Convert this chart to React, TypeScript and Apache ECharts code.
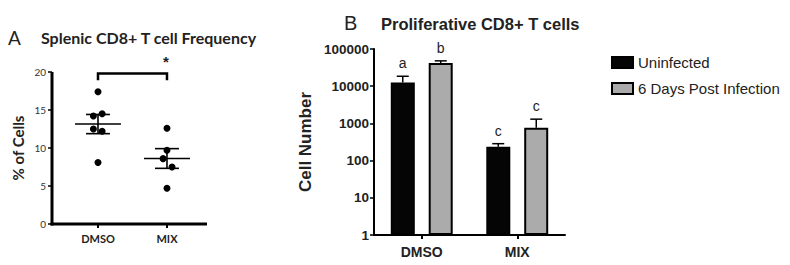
import React, { useEffect, useRef } from "react";
import * as echarts from "echarts";

// ---------- Panel A data ----------
const groupsA = ["DMSO", "MIX"];
const groupPosA = [2, 5];
const dmsoPct = [17.4, 14.2, 14.5, 12.5, 12.2, 8.1];
const mixPct = [12.6, 9.7, 8.6, 7.5, 4.7];
const dmsoJitter = [0, -0.2, 0.18, -0.2, 0.18, 0];
const mixJitter = [0, 0, -0.17, 0.22, 0];
const yTicksA = [0, 5, 10, 15, 20];
const significance = "*";

// ---------- Panel B data ----------
const groupsB = ["DMSO", "MIX"];
const uninfected = [12500, 235];
const uninfectedUpper = [18500, 285];
const infected = [42000, 760];
const infectedUpper = [48000, 1300];
const lettersUninfected = ["a", "c"];
const lettersInfected = ["b", "c"];
const seriesNames = ["Uninfected", "6 Days Post Infection"];

function meanSem(arr: number[]) {
  const n = arr.length;
  const m = arr.reduce((a, b) => a + b, 0) / n;
  const v = arr.reduce((a, b) => a + (b - m) * (b - m), 0) / (n - 1);
  return [m, Math.sqrt(v) / Math.sqrt(n)];
}

const ARIAL = "Liberation Sans";
const CAL = "Lato";
const INK = "#000000";
const X_MAX_A = 6.74;

export default function App() {
  const ref = useRef<HTMLDivElement>(null);
  useEffect(() => {
    if (!ref.current) return;
    const chart = echarts.init(ref.current, null, { renderer: "svg" });
    const [mD, sD] = meanSem(dmsoPct);
    const [mM, sM] = meanSem(mixPct);
    const statsA = [
      [groupPosA[0], mD, sD],
      [groupPosA[1], mM, sM],
    ];
    const scatterA = [
      ...dmsoPct.map((v, i) => [groupPosA[0] + dmsoJitter[i], v]),
      ...mixPct.map((v, i) => [groupPosA[1] + mixJitter[i], v]),
    ];
    const errB = [
      ...uninfected.map((v, i) => [i, v, uninfectedUpper[i], -1, lettersUninfected[i]]),
      ...infected.map((v, i) => [i, v, infectedUpper[i], 1, lettersInfected[i]]),
    ];
    const barOffset = 19;
    const yMinA = yTicksA[0];
    const yMaxA = yTicksA[yTicksA.length - 1];

    const option: any = {
      animation: false,
      backgroundColor: "#fff",
      color: [INK, "#ababab"],
      title: [
        { text: "A", left: 3, top: 23, textStyle: { fontFamily: CAL, fontSize: 19, fontWeight: "normal", color: "#222" } },
        { text: "Splenic CD8+ T cell Frequency", left: 36, top: 24, textStyle: { fontFamily: CAL, fontSize: 16, fontWeight: "bold", color: "#222" } },
        { text: "B", left: 339, top: 8, textStyle: { fontFamily: ARIAL, fontSize: 20, fontWeight: "normal", color: "#222" } },
        { text: "Proliferative CD8+ T cells", left: 376, top: 10, textStyle: { fontFamily: ARIAL, fontSize: 16.5, fontWeight: "bold", color: "#222" } },
      ],
      legend: {
        orient: "vertical",
        left: 606,
        top: 50,
        itemWidth: 21,
        itemHeight: 11,
        itemGap: 11,
        icon: "rect",
        data: seriesNames,
        textStyle: { fontFamily: ARIAL, fontSize: 15, color: "#222" },
      },
      grid: [
        { left: 52, top: 72, width: 155, height: 152 },
        { left: 374, top: 49, width: 191, height: 186 },
      ],
      xAxis: [
        {
          gridIndex: 0,
          type: "value",
          min: 0,
          max: X_MAX_A,
          interval: 1,
          splitLine: { show: false },
          axisLine: { show: false },
          axisTick: { show: false },
          axisLabel: {
            formatter: (v: number) => {
              const k = groupPosA.indexOf(Math.round(v * 100) / 100);
              return k >= 0 ? groupsA[k] : "";
            },
            margin: 9,
            fontFamily: CAL,
            fontWeight: "bold",
            fontSize: 11,
            color: "#222",
          },
        },
        {
          gridIndex: 1,
          type: "category",
          data: groupsB,
          axisLine: { lineStyle: { color: INK, width: 2 } },
          axisTick: { show: true, alignWithLabel: true, length: 4, lineStyle: { width: 2, color: INK } },
          axisLabel: { fontFamily: ARIAL, fontWeight: "bold", fontSize: 14, color: "#222", margin: 10 },
        },
      ],
      yAxis: [
        {
          gridIndex: 0,
          type: "value",
          min: yMinA,
          max: yMaxA,
          interval: 5,
          name: "% of Cells",
          nameLocation: "middle",
          nameGap: 27,
          nameTextStyle: { fontFamily: CAL, fontWeight: "bold", fontSize: 15, color: "#222" },
          splitLine: { show: false },
          axisLine: { show: false },
          axisTick: { show: true, length: 4, lineStyle: { width: 1.5, color: INK } },
          axisLabel: { fontFamily: CAL, fontSize: 10, color: "#333", margin: 6 },
        },
        {
          gridIndex: 1,
          type: "log",
          logBase: 10,
          min: 1,
          max: 100000,
          name: "Cell Number",
          nameLocation: "middle",
          nameGap: 60,
          nameTextStyle: { fontFamily: ARIAL, fontWeight: "bold", fontSize: 17, color: "#222" },
          splitLine: { show: false },
          axisLine: { show: true, lineStyle: { color: INK, width: 2 } },
          axisTick: { show: true, length: 4, lineStyle: { width: 1.5, color: INK } },
          axisLabel: {
            formatter: (v: number) => String(Math.round(v)),
            fontFamily: ARIAL,
            fontWeight: "bold",
            fontSize: 13.5,
            color: "#222",
            margin: 5,
          },
        },
      ],
      series: [
        {
          // panel A axis frame (L-shape), placed through the axes' own scales
          type: "custom",
          xAxisIndex: 0,
          yAxisIndex: 0,
          clip: false,
          silent: true,
          data: [[0, yMinA, X_MAX_A, yMaxA]],
          renderItem: (params: any, api: any) => {
            const o = api.coord([api.value(0), api.value(1)]);
            const xe = api.coord([api.value(2), api.value(1)]);
            const ye = api.coord([api.value(0), api.value(3)]);
            return {
              type: "group",
              children: [
                { type: "rect", shape: { x: o[0] - 1.5, y: ye[1], width: 3, height: o[1] - ye[1] + 1.5 }, style: { fill: INK } },
                { type: "rect", shape: { x: o[0] - 1.5, y: o[1] - 1.5, width: xe[0] - o[0] + 1.5, height: 3 }, style: { fill: INK } },
              ],
            };
          },
          z: 2,
        },
        {
          type: "scatter",
          xAxisIndex: 0,
          yAxisIndex: 0,
          data: scatterA,
          symbol: "circle",
          symbolSize: 7,
          itemStyle: { color: INK, opacity: 1 },
          z: 3,
        },
        {
          type: "custom",
          xAxisIndex: 0,
          yAxisIndex: 0,
          clip: false,
          data: statsA,
          renderItem: (params: any, api: any) => {
            const x = api.value(0);
            const m = api.value(1);
            const s = api.value(2);
            const c = api.coord([x, m]);
            const t = api.coord([x, m + s]);
            const b = api.coord([x, m - s]);
            const base = api.coord([x, 0]);
            const unit = api.size([1, 0])[0];
            const hw = unit * 1.0;
            const cw = unit * 0.52;
            const st = { stroke: INK, lineWidth: 1.6 };
            return {
              type: "group",
              children: [
                { type: "line", shape: { x1: c[0] - hw, y1: c[1], x2: c[0] + hw, y2: c[1] }, style: st },
                { type: "line", shape: { x1: c[0] - cw, y1: t[1], x2: c[0] + cw, y2: t[1] }, style: st },
                { type: "line", shape: { x1: c[0] - cw, y1: b[1], x2: c[0] + cw, y2: b[1] }, style: st },
                { type: "line", shape: { x1: c[0], y1: t[1], x2: c[0], y2: b[1] }, style: st },
                { type: "line", shape: { x1: base[0], y1: base[1], x2: base[0], y2: base[1] + 4 }, style: { stroke: INK, lineWidth: 2 } },
              ],
            };
          },
          z: 4,
        },
        {
          type: "custom",
          xAxisIndex: 0,
          yAxisIndex: 0,
          clip: false,
          data: [[groupPosA[0], groupPosA[1], 19.8, 18.9]],
          renderItem: (params: any, api: any) => {
            const a = api.coord([api.value(0), api.value(2)]);
            const b = api.coord([api.value(1), api.value(2)]);
            const legY = api.coord([api.value(0), api.value(3)])[1];
            return {
              type: "group",
              children: [
                {
                  type: "polyline",
                  shape: { points: [[a[0], legY], [a[0], a[1]], [b[0], b[1]], [b[0], legY]] },
                  style: { stroke: INK, lineWidth: 2.5, fill: "none" },
                },
                {
                  type: "text",
                  x: b[0] - 1,
                  y: a[1] - 5,
                  style: { text: significance, fontFamily: ARIAL, fontSize: 15, fontWeight: "bold", fill: "#222", align: "center", verticalAlign: "bottom" },
                },
              ],
            };
          },
        },
        {
          name: seriesNames[0],
          type: "bar",
          xAxisIndex: 1,
          yAxisIndex: 1,
          data: uninfected,
          barWidth: 24,
          barGap: "58%",
          itemStyle: { color: "#050505", borderColor: INK, borderWidth: 1.5 },
        },
        {
          name: seriesNames[1],
          type: "bar",
          xAxisIndex: 1,
          yAxisIndex: 1,
          data: infected,
          barWidth: 24,
          barGap: "58%",
          itemStyle: { color: "#ababab", borderColor: INK, borderWidth: 2 },
        },
        {
          type: "custom",
          xAxisIndex: 1,
          yAxisIndex: 1,
          clip: false,
          data: errB,
          renderItem: (params: any, api: any) => {
            const i = api.value(0);
            const v = api.value(1);
            const u = api.value(2);
            const sign = api.value(3);
            const letter = errB[params.dataIndex][4] as string;
            const p = api.coord([i, v]);
            const q = api.coord([i, u]);
            const x = p[0] + sign * barOffset;
            const st = { stroke: INK, lineWidth: 1.5 };
            return {
              type: "group",
              children: [
                { type: "line", shape: { x1: x, y1: p[1], x2: x, y2: q[1] }, style: st },
                { type: "line", shape: { x1: x - 6, y1: q[1], x2: x + 6, y2: q[1] }, style: st },
                {
                  type: "text",
                  x: x,
                  y: q[1] - 6,
                  style: { text: letter, fontFamily: ARIAL, fontSize: 14, fill: "#222", align: "center", verticalAlign: "bottom" },
                },
              ],
            };
          },
          z: 5,
        },
      ],
    };
    chart.setOption(option);
    return () => chart.dispose();
  }, []);
  return (
    <div
      ref={ref}
      style={{ position: "fixed", left: 0, top: 0, width: 790, height: 265, background: "#fff" }}
    />
  );
}
